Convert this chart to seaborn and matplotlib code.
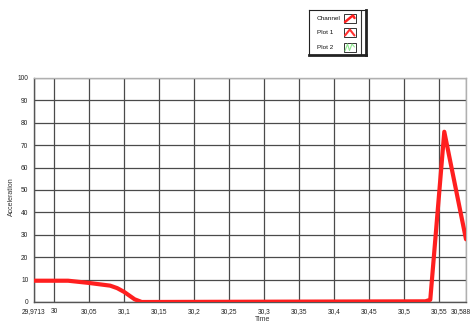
import matplotlib
matplotlib.use("Agg")
import matplotlib.pyplot as plt
import matplotlib.transforms as mtransforms
import seaborn as sns
import pandas as pd

# Acceleration trace over time
time = [29.9713, 30.0, 30.02, 30.05, 30.08, 30.09, 30.1, 30.115, 30.125,
        30.53, 30.537, 30.557, 30.588]
accel = [9.5, 9.5, 9.5, 8.5, 7.3, 6.2, 4.5, 1.2, 0.0,
         0.3, 1.0, 76.0, 28.0]

x_ticks = [29.9713, 30.0, 30.05, 30.1, 30.15, 30.2, 30.25, 30.3, 30.35,
           30.4, 30.45, 30.5, 30.55, 30.588]
x_tick_labels = ["29,9713", "30", "30,05", "30,1", "30,15", "30,2", "30,25",
                 "30,3", "30,35", "30,4", "30,45", "30,5", "30,55", "30,588"]
y_ticks = [0, 10, 20, 30, 40, 50, 60, 70, 80, 90, 100]

legend_names = ["Channel", "Plot 1", "Plot 2"]

sns.set_style("white")
plt.rcParams["font.family"] = ["Liberation Sans", "DejaVu Sans"]

df = pd.DataFrame({"Time": time, "Acceleration": accel})

fig = plt.figure(figsize=(4.72, 3.22), dpi=100)
W, H = 472, 322
ax = fig.add_axes([34 / W, 20 / H, 432 / W, 224 / H])

sns.lineplot(data=df, x="Time", y="Acceleration", ax=ax, color="#ff1f1f",
             linewidth=3.0, solid_joinstyle="round", zorder=5)

ax.set_xlim(29.9713, 30.588)
ax.set_ylim(0, 100)
ax.set_xticks(x_ticks)
ax.set_xticklabels(x_tick_labels)
ax.set_yticks(y_ticks)
ax.tick_params(axis="both", labelsize=4.8, length=2.5, width=0.8,
               color="#333333", labelcolor="#222222", pad=1.5, direction="out")

# keep the end label inside the canvas
last = ax.get_xticklabels()[-1]
last.set_ha("right")
last.set_transform(last.get_transform() +
                   mtransforms.ScaledTranslation(5 / 100, 0, fig.dpi_scale_trans))

ax.grid(True, color="#4a4a4a", linewidth=0.9)
for sp in ["top", "right"]:
    ax.spines[sp].set_color("#b0b0b0")
    ax.spines[sp].set_linewidth(1.0)
for sp in ["left", "bottom"]:
    ax.spines[sp].set_color("#555555")
    ax.spines[sp].set_linewidth(1.0)

ax.set_ylabel("Acceleration", fontsize=5, color="#333333")
ax.yaxis.set_label_coords(-19 / 432, 0.47)
ax.set_xlabel("Time", fontsize=5, color="#333333")
ax.xaxis.set_label_coords(0.53, -14 / 224)
ax.xaxis.label.set_va("top")

# Plot legend panel
lg = fig.add_axes([309 / W, 1 - 55 / H, 57 / W, 45 / H])
lg.set_xlim(309, 366)
lg.set_ylim(55, 10)
lg.set_xticks([])
lg.set_yticks([])
for sp in lg.spines.values():
    sp.set_color("#222222")
    sp.set_linewidth(0.8)
lg.spines["bottom"].set_linewidth(2.0)
lg.spines["right"].set_linewidth(2.0)
lg.axvline(361, color="#333333", linewidth=0.8)

row_y = [18.5, 32.5, 47.5]
for name, yy in zip(legend_names, row_y):
    lg.text(317, yy, name, fontsize=4.6, va="center", ha="left", color="#111111")
    box = plt.Rectangle((344, yy - 4.5), 11.5, 9, facecolor="white",
                        edgecolor="#333333", linewidth=0.7, zorder=2)
    lg.add_patch(box)

# legend icons
lg.plot([345, 348, 351, 353, 354.5], [22, 19.5, 17, 15.5, 18],
        color="#ff2020", linewidth=1.8, zorder=3)
lg.plot([345, 349.8, 354.5], [35.5, 29.5, 35.5], color="#ff3030", linewidth=1.5, zorder=3)
lg.plot([345, 347.5, 349.5, 352, 354.5], [51, 44, 50.5, 44, 47],
        color="#8fe88f", linewidth=0.8, zorder=3)

fig.savefig("out.png", dpi=100)
